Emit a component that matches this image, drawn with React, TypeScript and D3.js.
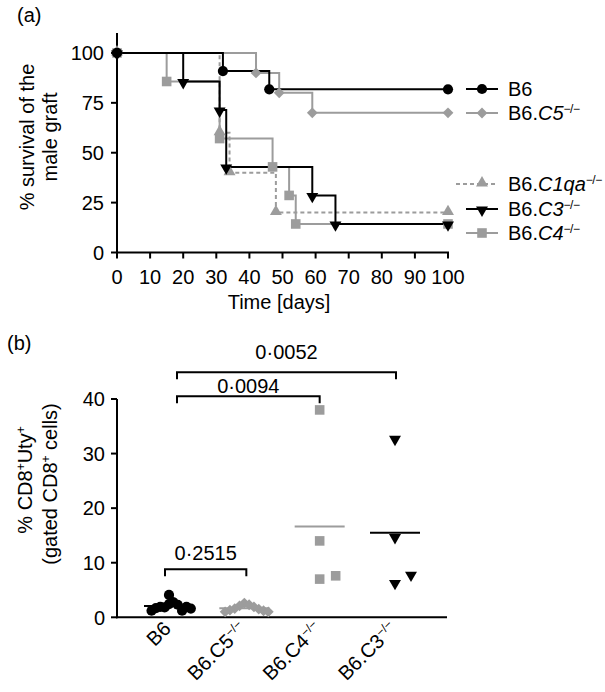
import React from 'react';
import * as d3 from 'd3';

const FONT = '"Liberation Sans", Arial, Helvetica, sans-serif';
const BLACK = '#000000';
const GRAY = '#9c9c9c';

// ---------- Panel (a): Kaplan–Meier survival ----------
const b6Days = [0, 32, 46, 100];
const b6Survival = [100, 90.9, 81.8, 81.8];
const c5Days = [0, 42, 49, 59, 100];
const c5Survival = [100, 90, 80, 70, 70];
const c1qaDays = [0, 31, 34, 48, 100];
const c1qaSurvival = [100, 60, 40, 20, 20];
const c3Days = [0, 20, 31, 33, 59, 66, 100];
const c3Survival = [100, 85.7, 71.4, 42.9, 28.6, 14.3, 14.3];
const c4Days = [0, 15, 31, 47, 52, 54, 100];
const c4Survival = [100, 85.7, 57.1, 42.9, 28.6, 14.3, 14.3];
const dayTicks = [0, 10, 20, 30, 40, 50, 60, 70, 80, 90, 100];
const survivalTicks = [0, 25, 50, 75, 100];

// ---------- Panel (b): CD8+Uty+ ----------
const strains = ['B6', 'B6.C5', 'B6.C4', 'B6.C3'];
const b6Cd8 = [4.1, 2.8, 2.4, 1.8, 2.3, 1.9, 1.2, 1.7, 1.9, 1.2, 1.6];
const c5Cd8 = [2.6, 2.3, 2.1, 1.9, 1.6, 1.5, 1.3, 1.2, 1.0, 1.0];
const c4Cd8 = [38.0, 14.0, 7.0, 7.6];
const c3Cd8 = [32.8, 14.8, 6.4, 7.9];
const cd8Ticks = [0, 10, 20, 30, 40];
const compareFrom = ['B6', 'B6', 'B6'];
const compareTo = ['B6.C5', 'B6.C4', 'B6.C3'];
const pValues = ['0·2515', '0·0094', '0·0052'];

type SymKind = 'circle' | 'diamond' | 'triUp' | 'triDown' | 'square';

function symPath(kind: SymKind): string {
  const g = d3.symbol();
  if (kind === 'circle') return g.type(d3.symbolCircle).size(82)()!;
  if (kind === 'square') return g.type(d3.symbolSquare).size(92)()!;
  if (kind === 'diamond') return g.type(d3.symbolSquare).size(58)()!;
  return g.type(d3.symbolTriangle).size(62)()!;
}
function symTransform(kind: SymKind, x: number, y: number) {
  if (kind === 'diamond') return `translate(${x},${y}) rotate(45)`;
  if (kind === 'triDown') return `translate(${x},${y + 1}) rotate(180)`;
  if (kind === 'triUp') return `translate(${x},${y - 1})`;
  return `translate(${x},${y})`;
}

const Sym = ({ kind, x, y, color }: { kind: SymKind; x: number; y: number; color: string }) => (
  <path d={symPath(kind)} transform={symTransform(kind, x, y)} fill={color} />
);

// simple beeswarm: box collision, offsets alternate right/left of the column centre
function swarm(values: number[], ys: (v: number) => number, cx: number) {
  const n = values.length;
  const s = n <= 4 ? 16 : 48 / n;
  const hy = 9;
  const placed: { x: number; y: number }[] = [];
  values.forEach((v) => {
    const y = ys(v);
    for (let k = 0; k < 60; k++) {
      const m = k === 0 ? 0 : k % 2 === 1 ? (k + 1) / 2 : -k / 2;
      const x = cx + m * s;
      if (placed.every((p) => Math.abs(p.x - x) >= s - 0.01 || Math.abs(p.y - y) >= hy)) {
        placed.push({ x, y });
        break;
      }
    }
  });
  return placed;
}

export default function App() {
  const xA = d3.scaleLinear().domain([0, 100]).range([117, 448]);
  const yA = d3.scaleLinear().domain([0, 110]).range([252.5, 33]);
  const step = d3
    .line<[number, number]>()
    .x((d) => xA(d[0]))
    .y((d) => yA(d[1]))
    .curve(d3.curveStepAfter);

  const series = [
    { days: c1qaDays, surv: c1qaSurvival, color: GRAY, kind: 'triUp' as SymKind, dash: '4,3' },
    { days: c4Days, surv: c4Survival, color: GRAY, kind: 'square' as SymKind, dash: undefined },
    { days: c5Days, surv: c5Survival, color: GRAY, kind: 'diamond' as SymKind, dash: undefined },
    { days: c3Days, surv: c3Survival, color: BLACK, kind: 'triDown' as SymKind, dash: undefined },
    { days: b6Days, surv: b6Survival, color: BLACK, kind: 'circle' as SymKind, dash: undefined },
  ];

  const legend = [
    { pre: 'B6', gene: '', color: BLACK, kind: 'circle' as SymKind, dash: undefined, y: 89 },
    { pre: 'B6.', gene: 'C5', color: GRAY, kind: 'diamond' as SymKind, dash: undefined, y: 113 },
    { pre: 'B6.', gene: 'C1qa', color: GRAY, kind: 'triUp' as SymKind, dash: '4,3', y: 184 },
    { pre: 'B6.', gene: 'C3', color: BLACK, kind: 'triDown' as SymKind, dash: undefined, y: 209 },
    { pre: 'B6.', gene: 'C4', color: GRAY, kind: 'square' as SymKind, dash: undefined, y: 233 },
  ];

  const xB = d3.scalePoint<string>().domain(strains).range([169, 395]);
  const yB = d3.scaleLinear().domain([0, 40]).range([617.3, 399]);
  const groups = [
    { name: 'B6', vals: b6Cd8, color: BLACK, kind: 'circle' as SymKind },
    { name: 'B6.C5', vals: c5Cd8, color: GRAY, kind: 'diamond' as SymKind },
    { name: 'B6.C4', vals: c4Cd8, color: GRAY, kind: 'square' as SymKind },
    { name: 'B6.C3', vals: c3Cd8, color: BLACK, kind: 'triDown' as SymKind },
  ];
  const bracketLevels = [8.8, 40.5, 44.9];
  const bracketLeftOff = [-4, 8, 8];
  const bracketRightOff = [2, 0, 1];
  const textGap = [9, 3, 13];

  const fs = 20;
  const sup = 12;

  return (
    <div style={{ position: 'absolute', left: 0, top: 0 }}>
      <svg width={605} height={692} style={{ display: 'block', fontFamily: FONT }}>
        <rect width={605} height={692} fill="#ffffff" />
        {/* ================= Panel (a) ================= */}
        <text x={17} y={22} fontSize={fs}>(a)</text>

        <line x1={xA(0)} x2={xA(0)} y1={yA(110)} y2={yA(0) + 1} stroke={BLACK} strokeWidth={2} />
        {survivalTicks.map((t) => (
          <g key={'ya' + t}>
            <line x1={xA(0) - 6} x2={xA(0)} y1={yA(t)} y2={yA(t)} stroke={BLACK} strokeWidth={2} />
            <text x={104} y={yA(t)} dy="0.36em" textAnchor="end" fontSize={fs}>{t}</text>
          </g>
        ))}
        <line x1={xA(0) - 1} x2={xA(100) + 1} y1={yA(0)} y2={yA(0)} stroke={BLACK} strokeWidth={2} />
        {dayTicks.map((t) => (
          <g key={'xa' + t}>
            <line x1={xA(t)} x2={xA(t)} y1={yA(0)} y2={yA(0) + 6} stroke={BLACK} strokeWidth={2} />
            <text x={xA(t)} y={284} textAnchor="middle" fontSize={fs}>{t}</text>
          </g>
        ))}
        <text x={279} y={309} textAnchor="middle" fontSize={fs}>Time [days]</text>
        <text transform="translate(34,137) rotate(-90)" textAnchor="middle" fontSize={fs}>% survival of the</text>
        <text transform="translate(57,137) rotate(-90)" textAnchor="middle" fontSize={fs}>male graft</text>

        {series.map((s, i) => (
          <path
            key={'c' + i}
            d={step(s.days.map((d, j) => [d, s.surv[j]] as [number, number]))!}
            fill="none"
            stroke={s.color}
            strokeWidth={2}
            strokeDasharray={s.dash}
          />
        ))}
        {series.map((s, i) =>
          s.days.map((d, j) => <Sym key={'m' + i + '-' + j} kind={s.kind} x={xA(d)} y={yA(s.surv[j])} color={s.color} />)
        )}

        {legend.map((l, i) => (
          <g key={'lg' + i}>
            <line x1={l.dash ? 456 : 466} x2={498} y1={l.y} y2={l.y} stroke={l.color} strokeWidth={2} strokeDasharray={l.dash} />
            <Sym kind={l.kind} x={482} y={l.y} color={l.color} />
            <text x={508} y={l.y} dy="0.36em" fontSize={fs}>
              {l.pre}
              {l.gene && <tspan fontStyle="italic">{l.gene}</tspan>}
              {l.gene && <tspan fontSize={sup} dy={-7} letterSpacing={-0.5}>−/−</tspan>}
            </text>
          </g>
        ))}

        {/* ================= Panel (b) ================= */}
        <text x={7} y={350} fontSize={fs}>(b)</text>

        <line x1={117} x2={117} y1={yB(40)} y2={yB(0) + 1} stroke={BLACK} strokeWidth={2} />
        {cd8Ticks.map((t) => (
          <g key={'yb' + t}>
            <line x1={111} x2={117} y1={yB(t)} y2={yB(t)} stroke={BLACK} strokeWidth={2} />
            <text x={105} y={yB(t)} dy="0.36em" textAnchor="end" fontSize={fs}>{t}</text>
          </g>
        ))}
        <line x1={116} x2={447} y1={yB(0)} y2={yB(0)} stroke={BLACK} strokeWidth={2} />

        <text transform="translate(32,480) rotate(-90)" textAnchor="middle" fontSize={fs}>
          % CD8<tspan fontSize={sup} dy={-7}>+</tspan>
          <tspan dy={7}>Uty</tspan>
          <tspan fontSize={sup} dy={-7}>+</tspan>
        </text>
        <text transform="translate(57,484) rotate(-90)" textAnchor="middle" fontSize={fs}>
          (gated CD8<tspan fontSize={sup} dy={-7}>+</tspan>
          <tspan dy={7}> cells)</tspan>
        </text>

        {strains.map((s) => {
          const parts = s.split('.');
          return (
            <text key={'xl' + s} transform={`translate(${xB(s)! + 3},630) rotate(-45)`} textAnchor="end" fontSize={fs}>
              {s}
              {parts.length > 1 && <tspan fontSize={sup} dy={-7}>−/−</tspan>}
            </text>
          );
        })}

        {groups.map((g) => (
          <line
            key={'mean' + g.name}
            x1={xB(g.name)! - 25}
            x2={xB(g.name)! + 25}
            y1={yB(d3.mean(g.vals)!)}
            y2={yB(d3.mean(g.vals)!)}
            stroke={g.color}
            strokeWidth={2}
          />
        ))}
        {groups.map((g) =>
          swarm(g.vals, (v) => yB(v), xB(g.name)!).map((p, j) => (
            <Sym key={'pt' + g.name + j} kind={g.kind} x={p.x} y={p.y} color={g.color} />
          ))
        )}

        {pValues.map((p, i) => {
          const x1 = xB(compareFrom[i])! + bracketLeftOff[i];
          const x2 = xB(compareTo[i])! + bracketRightOff[i];
          const yy = yB(bracketLevels[i]);
          return (
            <g key={'br' + i}>
              <path d={`M${x1},${yy + 7}V${yy}H${x2}V${yy + 7}`} fill="none" stroke={BLACK} strokeWidth={2} />
              <text x={(x1 + x2) / 2} y={yy - textGap[i]} textAnchor="middle" fontSize={fs}>{p}</text>
            </g>
          );
        })}
      </svg>
    </div>
  );
}
